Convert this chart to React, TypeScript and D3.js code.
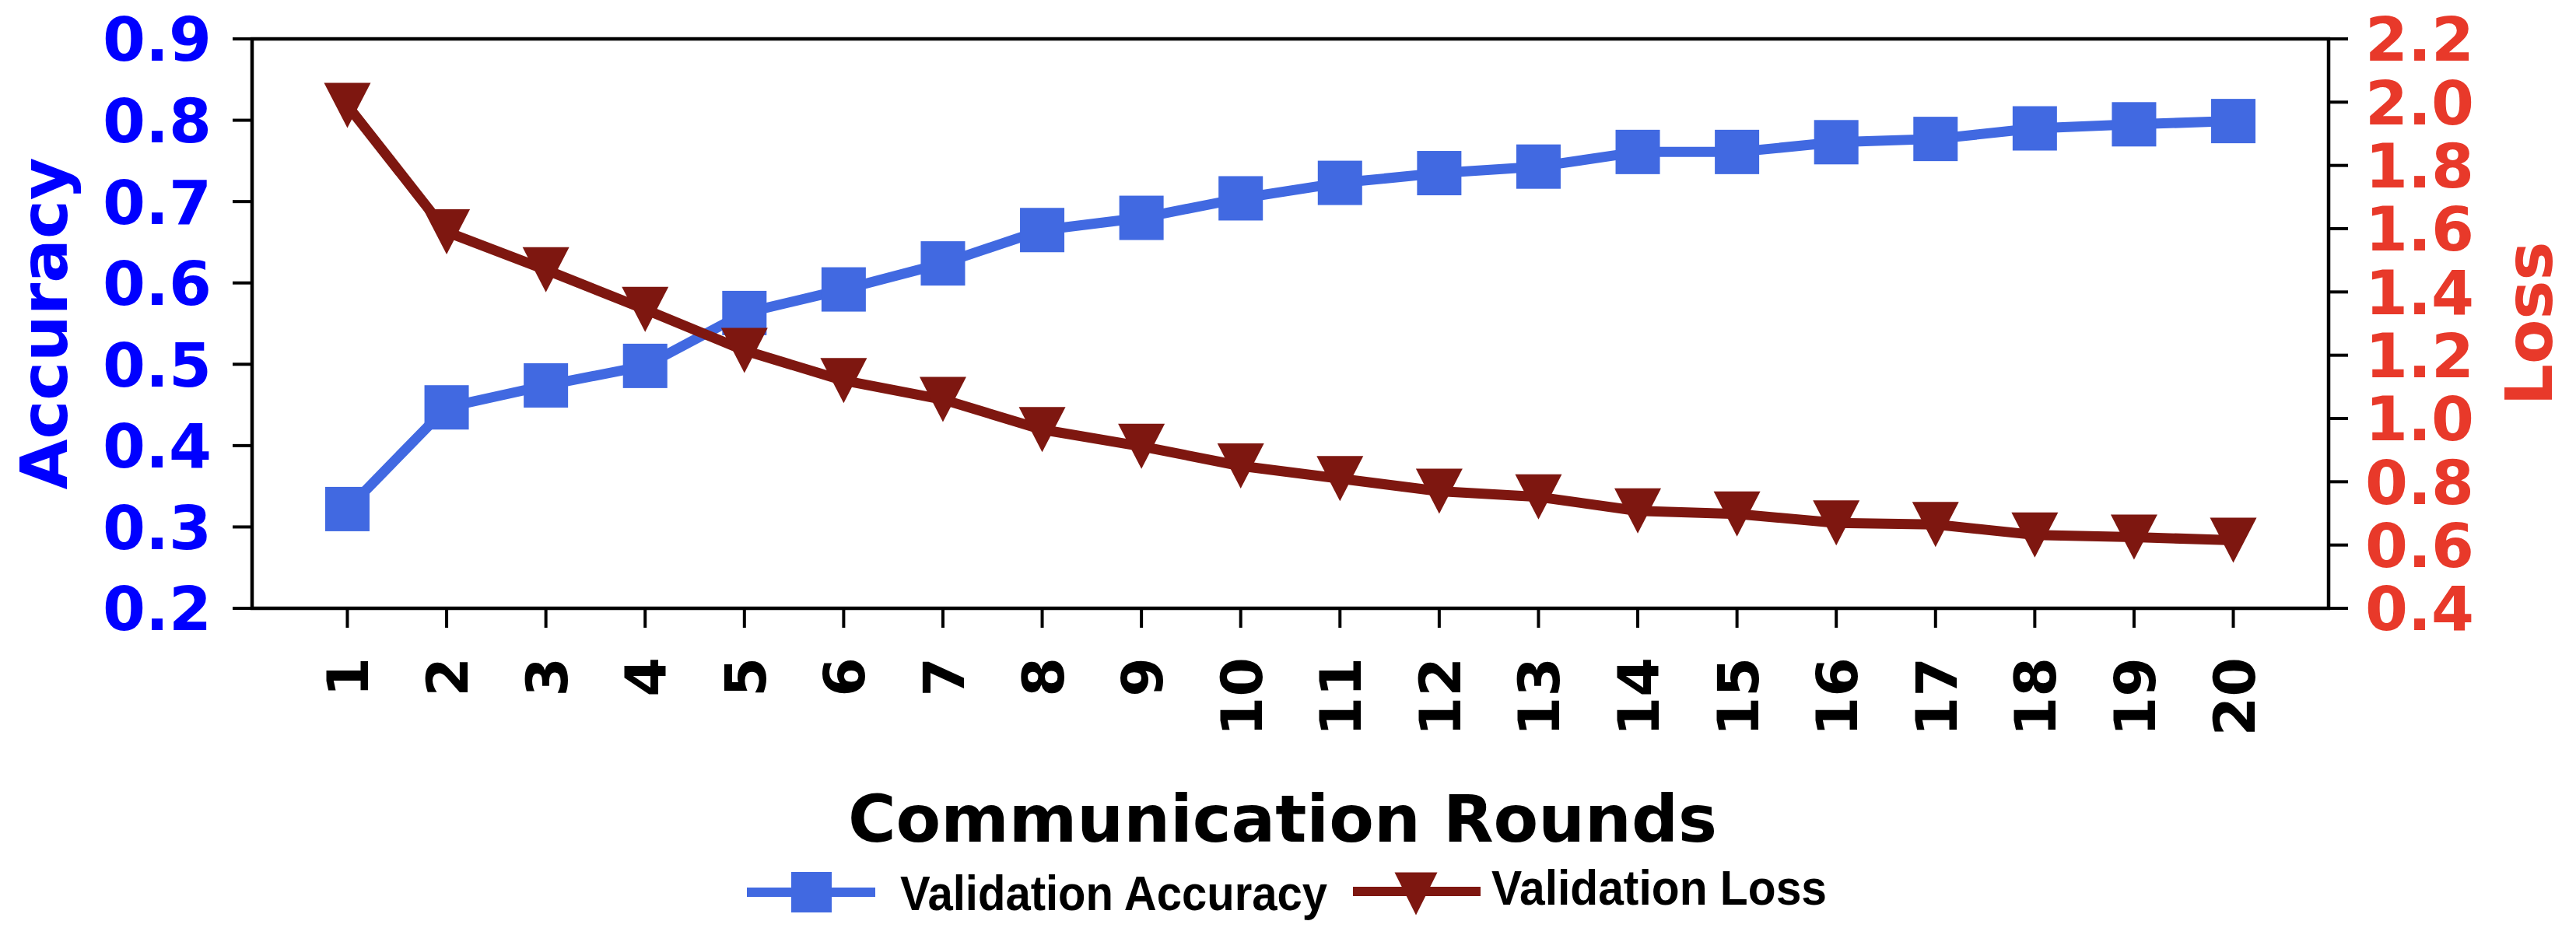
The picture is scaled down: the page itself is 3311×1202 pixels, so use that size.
import React from "react";
import * as d3 from "d3";

const rounds = d3.range(1, 21);
const accuracy = [0.322, 0.447, 0.474, 0.498, 0.563, 0.592, 0.624, 0.665, 0.68, 0.704, 0.723, 0.735, 0.743, 0.761, 0.761, 0.773, 0.777, 0.79, 0.795, 0.799];
const loss = [1.99, 1.59, 1.47, 1.345, 1.215, 1.12, 1.06, 0.965, 0.912, 0.85, 0.81, 0.77, 0.752, 0.708, 0.698, 0.67, 0.665, 0.632, 0.625, 0.615];
const accTicks = [0.2, 0.3, 0.4, 0.5, 0.6, 0.7, 0.8, 0.9];
const lossTicks = [0.4, 0.6, 0.8, 1.0, 1.2, 1.4, 1.6, 1.8, 2.0, 2.2];

const W = 3311;
const H = 1202;
const left = 324;
const right = 2993;
const top = 50;
const bottom = 782;

const ACC_COLOR = "#4169e1";
const LOSS_COLOR = "#7e1710";
const font = "'DejaVu Sans', sans-serif";

export default function App() {
  const x = d3.scaleLinear().domain([0.04, 20.96]).range([left, right]);
  const yAcc = d3.scaleLinear().domain([0.2, 0.9]).range([bottom, top]);
  const yLoss = d3.scaleLinear().domain([0.4, 2.2]).range([bottom, top]);

  const accLine = d3.line<number>().x((_, i) => x(rounds[i])).y((d) => yAcc(d));
  const lossLine = d3.line<number>().x((_, i) => x(rounds[i])).y((d) => yLoss(d));

  const sq = 57;
  const tri = (cx: number, cy: number, w: number, h: number) =>
    `M${cx - w / 2},${cy - h / 2}L${cx + w / 2},${cy - h / 2}L${cx},${cy + h / 2}Z`;

  return (
    <svg width={W} height={H} style={{ position: "absolute", left: 0, top: 0, background: "#fff" }}>
      <rect x={0} y={0} width={W} height={H} fill="#fff" />

      {/* lines and markers */}
      <path d={accLine(accuracy) || ""} fill="none" stroke={ACC_COLOR} strokeWidth={13} strokeLinejoin="round" />
      {accuracy.map((d, i) => (
        <rect key={"a" + i} x={x(rounds[i]) - sq / 2} y={yAcc(d) - sq / 2} width={sq} height={sq} fill={ACC_COLOR} />
      ))}
      <path d={lossLine(loss) || ""} fill="none" stroke={LOSS_COLOR} strokeWidth={13} strokeLinejoin="round" />
      {loss.map((d, i) => (
        <path key={"l" + i} d={tri(x(rounds[i]), yLoss(d), 60, 58)} fill={LOSS_COLOR} />
      ))}

      {/* frame */}
      <rect x={left} y={top} width={right - left} height={bottom - top} fill="none" stroke="#000" strokeWidth={4.5} />

      {/* left axis */}
      {accTicks.map((t) => (
        <g key={"at" + t}>
          <line x1={left - 25} x2={left} y1={yAcc(t)} y2={yAcc(t)} stroke="#000" strokeWidth={4} />
          <text x={left - 52} y={yAcc(t)} dy="0.36em" textAnchor="end" fontFamily={font} fontWeight="bold" fontSize={79} fill="#0000ff">
            {t.toFixed(1)}
          </text>
        </g>
      ))}
      <text transform={`translate(86,${(top + bottom) / 2}) rotate(-90)`} textAnchor="middle" fontFamily={font} fontWeight="bold" fontSize={84} fill="#0000ff">
        Accuracy
      </text>

      {/* right axis */}
      {lossTicks.map((t) => (
        <g key={"lt" + t}>
          <line x1={right} x2={right + 25} y1={yLoss(t)} y2={yLoss(t)} stroke="#000" strokeWidth={4} />
          <text x={right + 47} y={yLoss(t)} dy="0.36em" textAnchor="start" fontFamily={font} fontWeight="bold" fontSize={79} fill="#e8392a">
            {t.toFixed(1)}
          </text>
        </g>
      ))}
      <text transform={`translate(3280,${(top + bottom) / 2}) rotate(-90)`} textAnchor="middle" fontFamily={font} fontWeight="bold" fontSize={84} fill="#e8392a">
        Loss
      </text>

      {/* x axis */}
      {rounds.map((r) => (
        <g key={"xt" + r}>
          <line x1={x(r)} x2={x(r)} y1={bottom} y2={bottom + 25} stroke="#000" strokeWidth={4} />
          <text transform={`translate(${x(r) + 27},${bottom + 63}) rotate(-90)`} textAnchor="end" fontFamily={font} fontWeight="bold" fontSize={73} fill="#000">
            {r}
          </text>
        </g>
      ))}
      <text x={(left + right) / 2 - 10} y={1082} textAnchor="middle" fontFamily={font} fontWeight="bold" fontSize={84} fill="#000">
        Communication Rounds
      </text>

      {/* legend */}
      <line x1={960} x2={1125} y1={1147} y2={1147} stroke={ACC_COLOR} strokeWidth={12} />
      <rect x={1043 - 26} y={1147 - 26} width={52} height={52} fill={ACC_COLOR} />
      <text x={1157} y={1170} fontFamily="'Liberation Sans', Arial, sans-serif" fontWeight="bold" fontSize={63} textLength={549} lengthAdjust="spacingAndGlyphs" fill="#000">
        Validation Accuracy
      </text>
      <line x1={1739} x2={1903} y1={1146} y2={1146} stroke={LOSS_COLOR} strokeWidth={12} />
      <path d={tri(1820, 1149, 55, 55)} fill={LOSS_COLOR} />
      <text x={1917} y={1163} fontFamily="'Liberation Sans', Arial, sans-serif" fontWeight="bold" fontSize={63} textLength={431} lengthAdjust="spacingAndGlyphs" fill="#000">
        Validation Loss
      </text>
    </svg>
  );
}
